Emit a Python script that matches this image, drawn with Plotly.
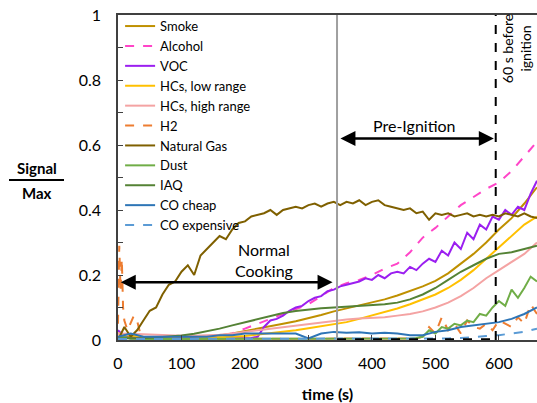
import plotly.graph_objects as go

# ---- data ----
t10 = list(range(0, 661, 10))
t20 = list(range(0, 661, 20))

natural_gas = [0.0, 0.04, 0.01, 0.03, 0.06, 0.09, 0.10, 0.14, 0.17, 0.18,
               0.21, 0.23, 0.20, 0.26, 0.28, 0.30, 0.32, 0.31, 0.34, 0.36,
               0.365, 0.38, 0.385, 0.39, 0.40, 0.385, 0.40, 0.405, 0.41, 0.405,
               0.415, 0.42, 0.41, 0.42, 0.425, 0.415, 0.425, 0.42, 0.43, 0.415,
               0.425, 0.43, 0.415, 0.41, 0.405, 0.40, 0.405, 0.39, 0.395, 0.37,
               0.39, 0.385, 0.39, 0.38, 0.385, 0.39, 0.38, 0.385, 0.38, 0.385,
               0.38, 0.39, 0.385, 0.38, 0.39, 0.38, 0.375]

voc = [0.03, 0.01, 0.005, 0.005, 0.005, 0.005, 0.005, 0.005, 0.005, 0.005,
       0.005, 0.005, 0.005, 0.005, 0.005, 0.005, 0.005, 0.005, 0.005, 0.005,
       0.005, 0.006, 0.01, 0.04, 0.06, 0.065, 0.075, 0.09, 0.10, 0.105,
       0.12, 0.13, 0.135, 0.15, 0.155, 0.165, 0.17, 0.175, 0.18, 0.19,
       0.185, 0.20, 0.19, 0.205, 0.21, 0.205, 0.225, 0.215, 0.235, 0.25,
       0.24, 0.275, 0.26, 0.30, 0.28, 0.33, 0.31, 0.355, 0.34, 0.38,
       0.37, 0.40, 0.385, 0.41, 0.40, 0.45, 0.49]

dust = [0.005, 0.01, 0.004, 0.003, 0.003, 0.003, 0.003, 0.003, 0.003, 0.003,
        0.003, 0.003, 0.003, 0.003, 0.003, 0.003, 0.003, 0.003, 0.003, 0.003,
        0.003, 0.003, 0.003, 0.003, 0.003, 0.003, 0.003, 0.003, 0.003, 0.003,
        0.003, 0.003, 0.003, 0.003, 0.003, 0.003, 0.003, 0.003, 0.003, 0.003,
        0.003, 0.003, 0.003, 0.003, 0.003, 0.003, 0.005, 0.006, 0.01, 0.03,
        0.02, 0.04, 0.035, 0.05, 0.045, 0.06, 0.055, 0.08, 0.075, 0.10,
        0.12, 0.105, 0.155, 0.13, 0.16, 0.195, 0.18]

smoke = [0.01, 0.01, 0.008, 0.006, 0.005, 0.006, 0.008, 0.01, 0.014, 0.02,
         0.027, 0.035, 0.043, 0.05, 0.058, 0.067, 0.077, 0.088, 0.097, 0.106,
         0.115, 0.125, 0.137, 0.15, 0.165, 0.182, 0.205, 0.235, 0.265, 0.30,
         0.34, 0.375, 0.42, 0.47]

alcohol = [0.01, 0.005, 0.003, 0.003, 0.003, 0.004, 0.004, 0.005, 0.01, 0.02,
           0.035, 0.05, 0.065, 0.08, 0.095, 0.11, 0.135, 0.16, 0.175, 0.185,
           0.20, 0.22, 0.235, 0.27, 0.315, 0.345, 0.38, 0.415, 0.44, 0.465,
           0.485, 0.52, 0.565, 0.61]

hcs_low = [0.02, 0.015, 0.01, 0.008, 0.006, 0.005, 0.005, 0.006, 0.008, 0.01,
           0.012, 0.016, 0.02, 0.025, 0.03, 0.036, 0.042, 0.048, 0.055, 0.065,
           0.075, 0.085, 0.097, 0.11, 0.125, 0.14, 0.16, 0.185, 0.215, 0.25,
           0.285, 0.32, 0.355, 0.38]

hcs_high = [0.02, 0.02, 0.018, 0.016, 0.014, 0.013, 0.013, 0.014, 0.016, 0.02,
            0.025, 0.03, 0.035, 0.04, 0.045, 0.05, 0.055, 0.06, 0.063, 0.066,
            0.068, 0.07, 0.075, 0.08, 0.088, 0.10, 0.115, 0.135, 0.16, 0.19,
            0.215, 0.24, 0.265, 0.30]

iaq = [0.005, 0.005, 0.006, 0.008, 0.01, 0.014, 0.019, 0.026, 0.035, 0.045,
       0.055, 0.065, 0.075, 0.083, 0.089, 0.094, 0.098, 0.10, 0.102, 0.104,
       0.106, 0.11, 0.115, 0.125, 0.14, 0.16, 0.185, 0.21, 0.23, 0.25,
       0.265, 0.27, 0.28, 0.29]

co_cheap = [0.01, 0.02, 0.01, 0.01, 0.01, 0.01, 0.012, 0.01, 0.015, 0.015,
            0.02, 0.02, 0.022, 0.02, 0.02, 0.005, 0.02, 0.025, 0.022, 0.024,
            0.02, 0.022, 0.02, 0.015, 0.015, 0.025, 0.03, 0.04, 0.045, 0.05,
            0.055, 0.065, 0.08, 0.10]

co_expensive = [0.003, 0.003, 0.003, 0.003, 0.003, 0.003, 0.003, 0.003, 0.003, 0.003,
                0.003, 0.003, 0.003, 0.003, 0.003, 0.003, 0.003, 0.003, 0.003, 0.003,
                0.003, 0.003, 0.003, 0.003, 0.003, 0.003, 0.005, 0.006, 0.008, 0.012,
                0.015, 0.02, 0.025, 0.035]

h2_t = [0, 2, 4, 6, 8, 10, 15, 20, 25, 30, 35, 40, 60, 100, 150, 200, 300, 400,
        470, 480, 490, 500, 510, 520, 530, 540, 550, 560, 570, 580, 590, 600,
        610, 620, 630, 640, 650, 660]
h2 = [0.05, 0.29, 0.15, 0.25, 0.10, 0.06, 0.03, 0.05, 0.075, 0.06, 0.02, 0.01,
      0.005, 0.003, 0.003, 0.003, 0.003, 0.003,
      0.005, 0.01, 0.04, 0.02, 0.07, 0.03, 0.05, 0.02, 0.06, 0.04, 0.035, 0.05,
      0.03, 0.06, 0.05, 0.04, 0.07, 0.05, 0.11, 0.08]

series = [
    ("Smoke", t20, smoke, "#BF9000", "solid"),
    ("Alcohol", t20, alcohol, "#FF45C8", "dash"),
    ("VOC", t10, voc, "#9B1FF0", "solid"),
    ("HCs, low range", t20, hcs_low, "#FFC000", "solid"),
    ("HCs, high range", t20, hcs_high, "#F4A3A3", "solid"),
    ("H2", h2_t, h2, "#ED7D31", "dash"),
    ("Natural Gas", t10, natural_gas, "#7F6000", "solid"),
    ("Dust", t10, dust, "#70AD47", "solid"),
    ("IAQ", t20, iaq, "#548235", "solid"),
    ("CO cheap", t20, co_cheap, "#2E75B6", "solid"),
    ("CO expensive", t20, co_expensive, "#5B9BD5", "dash"),
]

FONT = "Lato"

W, H = 537, 403
L, R, T, B = 118, 0, 15, 63
pw, ph = W - L - R, H - T - B


def px_x(p):
    return (p - L) / pw


def px_y(p):
    return 1 - (p - T) / ph


fig = go.Figure()
for name, x, y, color, dash in series:
    fig.add_trace(go.Scatter(x=x, y=y, mode="lines", name=name,
                             line=dict(color=color, width=2, dash=dash)))

# vertical markers
fig.add_shape(type="line", x0=345, x1=345, y0=0, y1=1, xref="x", yref="y",
              line=dict(color="#A0A0A0", width=2))
fig.add_shape(type="line", x0=595, x1=595, y0=0, y1=1, xref="x", yref="y",
              line=dict(color="black", width=2, dash="dash"))
fig.add_shape(type="line", x0=345, x1=595, y0=0.002, y1=0.002, xref="x", yref="y",
              line=dict(color="black", width=2, dash="dash"))

# arrows
fig.add_annotation(x=338, y=0.178, ax=2, ay=0.178, xref="x", yref="y",
                   axref="x", ayref="y", text="", showarrow=True,
                   arrowhead=2, arrowside="end+start", arrowsize=1.2, arrowwidth=2.5,
                   arrowcolor="black")
fig.add_annotation(x=592, y=0.62, ax=348, ay=0.62, xref="x", yref="y",
                   axref="x", ayref="y", text="", showarrow=True,
                   arrowhead=2, arrowside="end+start", arrowsize=1.2, arrowwidth=2.5,
                   arrowcolor="black")

fig.add_annotation(x=230, y=0.247, xref="x", yref="y", text="Normal<br>Cooking",
                   showarrow=False, font=dict(family=FONT, size=16, color="black"))
fig.add_annotation(x=467, y=0.66, xref="x", yref="y", text="Pre-Ignition",
                   showarrow=False, font=dict(family=FONT, size=16, color="black"))
fig.add_annotation(x=627, y=0.895, xref="x", yref="y", text="60 s before<br>ignition",
                   showarrow=False, textangle=-90,
                   font=dict(family=FONT, size=14, color="black"))

# y-axis title as a fraction
fig.add_annotation(x=px_x(37), y=px_y(168), xref="paper", yref="paper",
                   xanchor="center", yanchor="middle", text="<b>Signal</b>",
                   showarrow=False, font=dict(family=FONT, size=15, color="black"))
fig.add_annotation(x=px_x(37), y=px_y(193), xref="paper", yref="paper",
                   xanchor="center", yanchor="middle", text="<b>Max</b>",
                   showarrow=False, font=dict(family=FONT, size=15, color="black"))
fig.add_shape(type="line", xref="paper", yref="paper",
              x0=px_x(9), x1=px_x(64), y0=px_y(180), y1=px_y(180),
              line=dict(color="black", width=2))

fig.update_layout(
    width=W, height=H,
    margin=dict(l=L, r=R, t=T, b=B),
    paper_bgcolor="white", plot_bgcolor="white",
    font=dict(family=FONT, size=16, color="black"),
    showlegend=True,
    legend=dict(x=0.005, y=1.012, xanchor="left", yanchor="top",
                bgcolor="rgba(0,0,0,0)", font=dict(family=FONT, size=13),
                itemwidth=30, tracegroupgap=0, maxheight=1),
    xaxis=dict(range=[0, 660], dtick=100, showgrid=False, zeroline=False,
               showline=True, linecolor="#404040", linewidth=1.5, mirror=True,
               ticks="inside", ticklen=5, tickcolor="#404040",
               ticklabelstandoff=8,
               title=dict(text="<b>time (s)</b>", font=dict(family=FONT, size=16),
                          standoff=18)),
    yaxis=dict(range=[0, 1], dtick=0.2, showgrid=False, zeroline=False,
               showline=True, linecolor="#404040", linewidth=1.5,
               ticks="inside", ticklen=5, tickcolor="#404040",
               ticklabelstandoff=12,
               minor=dict(dtick=0.1, ticks="inside", ticklen=5, tickcolor="#404040")),
)

fig.write_html("out.html")
